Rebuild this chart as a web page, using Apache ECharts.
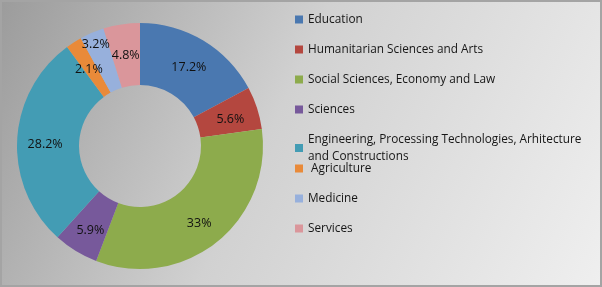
<!DOCTYPE html>
<html>
<head>
<meta charset="utf-8">
<script src="https://cdn.jsdelivr.net/npm/echarts@6/dist/echarts.min.js"></script>
<style>
  html, body { margin: 0; padding: 0; }
  #chart { width: 602px; height: 287px; box-sizing: border-box; border: 2px solid #a4a4a4; }
</style>
</head>
<body>
<div id="chart"></div>
<script>
var categories = ['Education', 'Humanitarian Sciences and Arts', 'Social Sciences, Economy and Law', 'Sciences',
  'Engineering, Processing Technologies, Arhitecture and Constructions', ' Agriculture', 'Medicine', 'Services'];
var shares = [17.2, 5.6, 33, 5.9, 28.2, 2.1, 3.2, 4.8];
var colors = ['#4a78b0', '#b4473f', '#8dab4c', '#77599b', '#439cb4', '#e98a39', '#97b0dc', '#da969b'];

function drawDonut() {
  var chart = echarts.init(document.getElementById('chart'));

  var data = [];
  for (var i = 0; i < categories.length; i++) {
    var item = { name: categories[i], value: shares[i] };
    // Medicine label is pushed outward in the original, like Excel does
    if (categories[i] === 'Medicine') {
      item.label = { offset: [-7, -14] };
    }
    data.push(item);
  }

  var legendText = {
    fontFamily: 'Open Sans',
    fontSize: 11.8,
    color: '#161616',
    lineHeight: 17
  };

  var option = {
    color: colors,
    backgroundColor: {
      type: 'linear', x: 0, y: 0, x2: 1, y2: 1,
      colorStops: [
        { offset: 0, color: '#9c9c9c' },
        { offset: 0.45, color: '#d1d1d1' },
        { offset: 1, color: '#efefef' }
      ]
    },
    legend: [
      {
        orient: 'vertical',
        left: 288, top: 4,
        itemWidth: 8, itemHeight: 8, itemGap: 13,
        icon: 'rect',
        data: categories.slice(0, 5),
        textStyle: legendText,
        formatter: function (name) {
          return name.replace('Arhitecture ', 'Arhitecture\n');
        }
      },
      {
        orient: 'vertical',
        left: 288, top: 153,
        itemWidth: 8, itemHeight: 8, itemGap: 13,
        icon: 'rect',
        data: categories.slice(5),
        textStyle: legendText
      }
    ],
    series: [{
      name: 'Share',
      type: 'pie',
      center: [138, 144],
      radius: [61, 123],
      startAngle: 90,
      clockwise: true,
      avoidLabelOverlap: false,
      label: {
        show: true,
        position: 'inside',
        offset: [0, 3],
        formatter: '{c}%',
        fontFamily: 'Open Sans',
        fontSize: 12.5,
        color: '#111'
      },
      labelLayout: { hideOverlap: false },
      labelLine: { show: false },
      itemStyle: { borderWidth: 0 },
      emphasis: { disabled: true },
      data: data
    }]
  };

  chart.setOption(option);
}

drawDonut();
</script>
</body>
</html>
